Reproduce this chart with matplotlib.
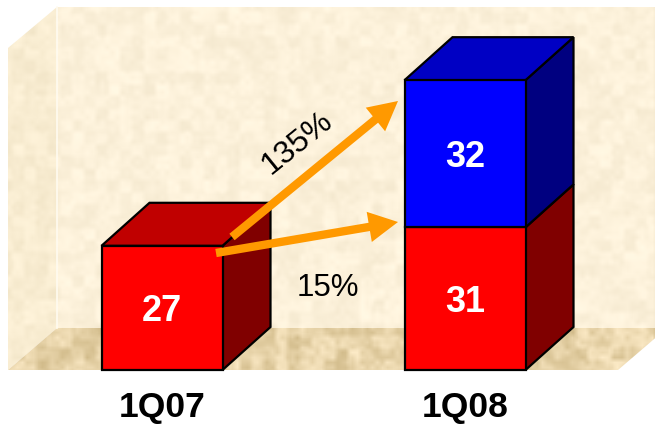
import numpy as np
import matplotlib
matplotlib.use("Agg")
import matplotlib.pyplot as plt
from matplotlib.patches import Polygon, FancyArrowPatch, ArrowStyle

plt.rcParams['font.family'] = ['Liberation Sans', 'DejaVu Sans']

# ---- data ----
quarters = ["1Q07", "1Q08"]
red_values = [27, 31]
blue_values = [0, 32]
growth_labels = ["135%", "15%"]

# ---- layout (pixel space of a 655x425 canvas) ----
W, H = 655, 425
BASE_PX = 370          # pixel row of the value axis zero
K = 4.6                # pixels per unit
DX, DY = 48, 43 / K    # 3D depth offset (x in px, y in value units)
BAR_W = 121
centers = [162, 465]

def vy(p):
    """pixel row -> value-axis coordinate"""
    return (BASE_PX - p) / K

fig = plt.figure(figsize=(W / 100, H / 100), dpi=100)
ax = fig.add_axes([0, 0, 1, 1])
ax.set_xlim(0, W)
ax.set_ylim(vy(H), vy(0))
ax.axis("off")

# ---- parchment-like backdrop ----
rng = np.random.default_rng(7)

def mottled(shape, scale):
    n = rng.random((shape[0] // scale + 2, shape[1] // scale + 2))
    n = np.kron(n, np.ones((scale, scale)))[:shape[0], :shape[1]]
    k = np.ones(5) / 5
    n = np.apply_along_axis(lambda r: np.convolve(r, k, mode="same"), 1, n)
    n = np.apply_along_axis(lambda c: np.convolve(c, k, mode="same"), 0, n)
    return n

noise = 0.6 * mottled((H, W), 12) + 0.4 * mottled((H, W), 5)
noise = (noise - noise.mean()) / (noise.std() + 1e-9)

def textured(base, amp):
    base = np.array(base, float) / 255
    img = base[None, None, :] + amp * noise[..., None] * np.array([1.0, 1.1, 1.4])[None, None, :]
    return np.clip(img, 0, 1)

extent = (0, W, vy(H), vy(0))

wall_poly = Polygon([(57, vy(7)), (W, vy(7)), (W, vy(328)), (57, vy(328))], closed=True,
                    facecolor="none", edgecolor="none")
side_poly = Polygon([(8, vy(48)), (57, vy(7)), (57, vy(328)), (8, vy(370))], closed=True,
                    facecolor="none", edgecolor="none")
floor_poly = Polygon([(8, vy(370)), (57, vy(328)), (667, vy(328)), (618, vy(370))], closed=True,
                     facecolor="none", edgecolor="none")

for poly, col, amp in [(wall_poly, (252, 241, 218), 0.010),
                       (side_poly, (249, 237, 210), 0.010),
                       (floor_poly, (232, 212, 170), 0.032)]:
    ax.add_patch(poly)
    im = ax.imshow(textured(col, amp), extent=extent, aspect="auto",
                   interpolation="bilinear", zorder=1, origin="upper")
    im.set_clip_path(poly)

# highlight along the wall corner
ax.plot([57, 57], [vy(7), vy(328)], color="#FFFBF0", lw=1.2, zorder=2)

# ---- 3D bars ----
def box(cx, y0, y1, front, top, side, draw_top):
    x0, x1 = cx - BAR_W / 2, cx + BAR_W / 2
    ax.add_patch(Polygon([(x1, y0), (x1 + DX, y0 + DY), (x1 + DX, y1 + DY), (x1, y1)],
                         closed=True, facecolor=side, edgecolor="black", lw=1.6, zorder=3))
    if draw_top:
        ax.add_patch(Polygon([(x0, y1), (x0 + DX, y1 + DY), (x1 + DX, y1 + DY), (x1, y1)],
                             closed=True, facecolor=top, edgecolor="black", lw=1.6, zorder=3))
    ax.add_patch(Polygon([(x0, y0), (x1, y0), (x1, y1), (x0, y1)],
                         closed=True, facecolor=front, edgecolor="black", lw=1.6, zorder=4))

label_kw = dict(color="white", fontsize=26, fontweight="bold", ha="center",
                va="center_baseline", zorder=6)

for cx, r, b in zip(centers, red_values, blue_values):
    box(cx, 0, r, "#FF0000", "#C00000", "#800000", draw_top=(b == 0))
    ax.text(cx, r / 2, str(r), **label_kw)
    if b:
        box(cx, r, r + b, "#0000FF", "#0000C4", "#000080", draw_top=True)
        ax.text(cx, r + b / 2, str(b), **label_kw)

for cx, q in zip(centers, quarters):
    ax.text(cx, vy(417), q, fontsize=25.5, fontweight="bold", ha="center", va="baseline",
            color="black", zorder=6)

# ---- growth arrows ----
style = ArrowStyle.Simple(head_length=21, head_width=22, tail_width=6)
arrows = [((232, vy(237)), (398, vy(101))),
          ((216, vy(253)), (398, vy(222)))]
for a, b in arrows:
    ax.add_patch(FancyArrowPatch(a, b, arrowstyle=style, mutation_scale=1,
                                 color="#FF9900", lw=0, shrinkA=0, shrinkB=0, zorder=7))

ax.text(295, vy(140), growth_labels[0], fontsize=23, rotation=39, ha="center",
        va="center_baseline", rotation_mode="anchor", color="black", zorder=8)
ax.text(328, vy(285), growth_labels[1], fontsize=22.5, ha="center", va="center_baseline",
        color="black", zorder=8)

fig.savefig("out.png", dpi=100)
